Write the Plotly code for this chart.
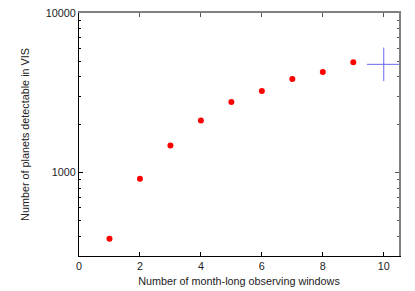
import plotly.graph_objects as go

windows = [1, 2, 3, 4, 5, 6, 7, 8, 9]
planets = [385, 913, 1476, 2118, 2771, 3248, 3861, 4271, 4910]
ref_x = [10]
ref_y = [4767]

x_ticks = [0, 2, 4, 6, 8, 10]
y_major = [1000, 10000]
y_minor = [300, 400, 500, 600, 700, 800, 900, 2000, 3000, 4000, 5000, 6000, 7000, 8000, 9000]

FONT = dict(family="Liberation Sans", size=10.8, color="#222")

fig = go.Figure()
fig.add_trace(go.Scatter(x=windows, y=planets, mode="markers",
                         marker=dict(color="#ff0000", size=6), showlegend=False))
fig.add_trace(go.Scatter(x=ref_x, y=ref_y, mode="markers",
                         marker=dict(symbol="cross-thin", size=24,
                                     line=dict(color="#6868f0", width=1), color="#6868f0"),
                         showlegend=False))
fig.add_trace(go.Scatter(x=[None], y=[None], xaxis="x2", yaxis="y2", showlegend=False))

xr = [0, 10.5]
yr = [2.4771, 4]
fig.update_layout(
    width=415, height=291,
    margin=dict(l=79, r=16, t=13, b=35, autoexpand=False),
    paper_bgcolor="white", plot_bgcolor="white",
    font=FONT,
    xaxis=dict(range=xr, tickvals=x_ticks, ticks="inside", ticklen=4, tickcolor="black",
               showline=True, linecolor="black", linewidth=1, showgrid=False, zeroline=False,
               automargin=False,
               title=dict(text="Number of month-long observing windows", standoff=6, font=FONT),
               tickfont=FONT),
    yaxis=dict(type="log", range=yr, tickvals=y_major, ticktext=["1000", "10000"],
               ticks="inside", ticklen=4, tickcolor="black", automargin=False,
               minor=dict(tickvals=y_minor, ticks="inside", ticklen=2, tickcolor="black"),
               showline=True, linecolor="black", linewidth=1, showgrid=False, zeroline=False,
               title=dict(text="Number of planets detectable in VIS", standoff=14, font=FONT),
               tickfont=FONT),
    xaxis2=dict(range=xr, overlaying="x", side="top", tickvals=x_ticks, ticks="inside",
                ticklen=4, tickcolor="#555", showticklabels=False, showline=True,
                automargin=False,
                linecolor="#808080", linewidth=2, showgrid=False, zeroline=False),
    yaxis2=dict(type="log", range=yr, overlaying="y", side="right", tickvals=y_major,
                ticks="inside", ticklen=4, tickcolor="#555", showticklabels=False,
                automargin=False,
                minor=dict(tickvals=y_minor, ticks="inside", ticklen=2, tickcolor="#555"),
                showline=True, linecolor="#808080", linewidth=2, showgrid=False, zeroline=False),
)
fig.write_html("out.html", config={"displayModeBar": False},
               post_script="document.body.style.margin='0';")
